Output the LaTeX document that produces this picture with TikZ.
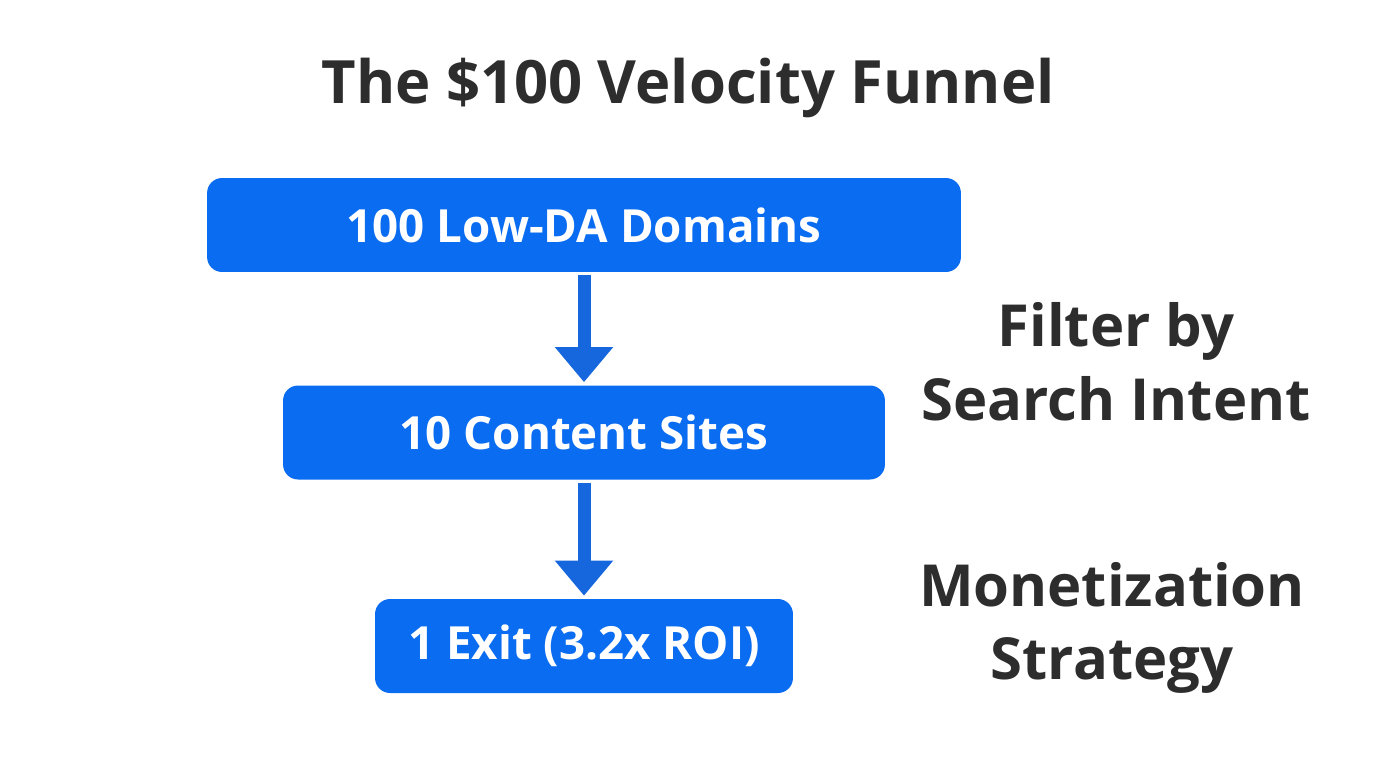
\documentclass[tikz,border=0pt]{standalone}
\usepackage{fontspec}
\setmainfont{Open Sans}
\usetikzlibrary{arrows.meta}

\definecolor{boxblue}{RGB}{10,108,240}
\definecolor{arrowblue}{RGB}{22,102,222}
\definecolor{inkgray}{RGB}{45,45,45}

\tikzset{
    stage/.style={fill=boxblue, rounded corners=0.3cm, text=white, font=\fontsize{26}{30}\selectfont\bfseries, minimum height=1.88cm},
    side/.style={text=inkgray, align=center, font=\fontsize{33}{42}\selectfont\bfseries},
    flow/.style={arrowblue, line width=7.4pt, -{Triangle[width=32pt, length=20pt]}, shorten >=0.06cm, shorten <=0.06cm}
}

\begin{document}
\begin{tikzpicture}[x=0.02cm, y=-0.02cm]
        \useasboundingbox (0,0) rectangle (1376,768);

        \node[text=inkgray, font=\fontsize{34}{38}\selectfont\bfseries] (title) at (688,88) {The \$100 Velocity Funnel};

        \node[stage, minimum width=15.08cm] (domains) at (584,225) {100 Low-DA Domains};
        \node[stage, minimum width=12.04cm] (sites) at (584,432.5) {10 Content Sites};
        \node[stage, minimum width=8.36cm] (exit) at (584,646) {1 Exit (3.2x ROI)};

        \draw[flow] (domains.south) -- (sites.north);
        \draw[flow] (sites.south) -- (exit.north);

        \node[side] (filter) at (1116,362) {Filter by\\Search Intent};
        \node[side] (money) at (1112,628) {Monetization\\Strategy};

    \end{tikzpicture}
\end{document}
